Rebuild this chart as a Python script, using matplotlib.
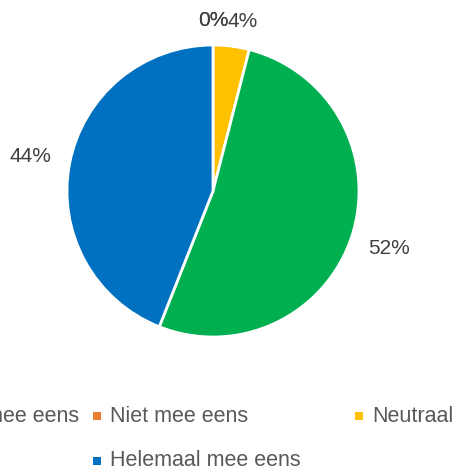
import matplotlib.pyplot as plt
from matplotlib.patches import Rectangle
import numpy as np

categories = ['Helemaal niet mee eens', 'Niet mee eens', 'Neutraal', 'Mee eens', 'Helemaal mee eens']
values = [0, 0, 4, 52, 44]
colors = ['#FF0000', '#ED7D31', '#FFC000', '#00B050', '#0070C0']

plt.rcParams['font.family'] = ['Liberation Sans', 'DejaVu Sans']

fig = plt.figure(figsize=(4.57, 4.72), dpi=100)
W, H = 457, 472
cx, cy, r = 213, 191, 146
ax = fig.add_axes([(cx - r) / W, (H - cy - r) / H, 2 * r / W, 2 * r / H])

wedges, _ = ax.pie(values, colors=colors, startangle=90, counterclock=False,
                   wedgeprops=dict(edgecolor='white', linewidth=2))
ax.set_xlim(-1, 1)
ax.set_ylim(-1, 1)
ax.set_aspect('equal')
ax.axis('off')

# data labels, outside end
total = sum(values)
start = 90.0
for i, v in enumerate(values):
    span = 360.0 * v / total
    mid = np.deg2rad(start - span / 2)
    start -= span
    dist = 1.27 if v > 10 else 1.17
    dx = 0.055 if i == 2 else 0.0
    ax.text(dist * np.cos(mid) + dx, dist * np.sin(mid), f'{v}%', ha='center', va='center',
            fontsize=15, color='#404040', clip_on=False)

# legend (wider than the visible area, as in the source)
col_x = [-165, 97, 359, 621]
rows = [(416, [0, 1, 2, 3]), (461, [4])]
for y, idx in rows:
    for k, i in enumerate(idx):
        x = col_x[k] if len(idx) > 1 else col_x[1]
        fig.patches.append(Rectangle(((x - 4) / W, (H - y - 4) / H), 8 / W, 8 / H,
                                     transform=fig.transFigure, facecolor=colors[i],
                                     edgecolor='none'))
        fig.text((x + 13) / W, (H - y) / H, categories[i], ha='left', va='center',
                 fontsize=15.5, color='#595959')

fig.savefig('out.png', dpi=100)
